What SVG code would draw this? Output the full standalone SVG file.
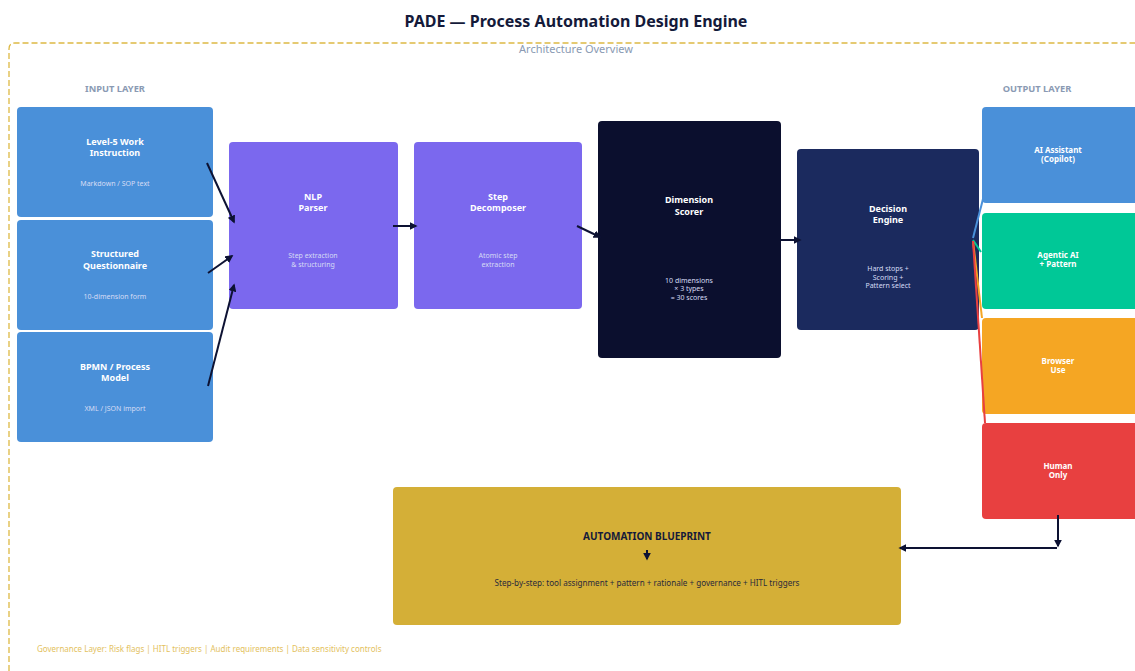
<svg xmlns="http://www.w3.org/2000/svg" width="1135" height="671" viewBox="0 0 1135 671">
  <style>
    text { font-family: "Noto Sans", "Open Sans", "DejaVu Sans", sans-serif; text-anchor: middle; }
    .title { font-size: 16px; font-weight: bold; fill: #141a3a; }
    .sub { font-size: 11px; fill: #8a9ab3; }
    .layer { font-size: 9.3px; font-weight: bold; fill: #8a9ab3; }
    .nt { font-size: 9px; font-weight: bold; fill: #ffffff; }
    .nt-s { font-size: 8px; font-weight: bold; fill: #ffffff; }
    .ns { font-size: 7px; fill: #d6dcf5; }
    .gov { font-size: 8px; fill: #e3c15e; text-anchor: start; }
    .flow { stroke: #0d1233; stroke-width: 2; fill: none; marker-end: url(#ah); }
    .out { stroke-width: 2; fill: none; }
  </style>
  <defs>
    <marker id="ah" viewBox="0 0 10 10" refX="8" refY="5" markerWidth="4" markerHeight="4" orient="auto">
      <path d="M0,0 L10,5 L0,10 z" fill="#0d1233"/>
    </marker>
  </defs>

  <rect width="1135" height="671" fill="#ffffff"/>

  <!-- heading -->
  <text class="title" x="576" y="27">PADE — Process Automation Design Engine</text>

  <!-- dashed frame of the architecture overview -->
  <path d="M9,671 V49 Q9,43 15,43 H1135" fill="none" stroke="#ddb944" stroke-width="1.3" stroke-dasharray="6,3"/>
  <text class="sub" x="576" y="53">Architecture Overview</text>
  <text class="layer" x="115" y="92">INPUT LAYER</text>
  <text class="layer" x="1037" y="92">OUTPUT LAYER</text>

  <!-- input layer -->
  <g id="in-work-instruction">
    <rect x="17" y="107" width="196" height="110" rx="4" fill="#4a90d9"/>
    <text class="nt" x="115" y="145">Level-5 Work</text>
    <text class="nt" x="115" y="156">Instruction</text>
    <text class="ns" x="115" y="186">Markdown / SOP text</text>
  </g>
  <g id="in-questionnaire">
    <rect x="17" y="220" width="196" height="110" rx="4" fill="#4a90d9"/>
    <text class="nt" x="115" y="257">Structured</text>
    <text class="nt" x="115" y="269">Questionnaire</text>
    <text class="ns" x="115" y="299">10-dimension form</text>
  </g>
  <g id="in-bpmn">
    <rect x="17" y="332" width="196" height="110" rx="4" fill="#4a90d9"/>
    <text class="nt" x="115" y="370">BPMN / Process</text>
    <text class="nt" x="115" y="381">Model</text>
    <text class="ns" x="115" y="411">XML / JSON import</text>
  </g>

  <!-- processing pipeline -->
  <g id="nlp-parser">
    <rect x="229" y="142" width="169" height="167" rx="4" fill="#7b68ee"/>
    <text class="nt" x="313" y="200">NLP</text>
    <text class="nt" x="313" y="211">Parser</text>
    <text class="ns" x="313" y="258">Step extraction</text>
    <text class="ns" x="313" y="267">&amp; structuring</text>
  </g>
  <g id="step-decomposer">
    <rect x="414" y="142" width="168" height="167" rx="4" fill="#7b68ee"/>
    <text class="nt" x="498" y="200">Step</text>
    <text class="nt" x="498" y="211">Decomposer</text>
    <text class="ns" x="498" y="258">Atomic step</text>
    <text class="ns" x="498" y="267">extraction</text>
  </g>
  <g id="dimension-scorer">
    <rect x="598" y="121" width="183" height="237" rx="4" fill="#0b0f2e"/>
    <text class="nt" x="689" y="203">Dimension</text>
    <text class="nt" x="689" y="215">Scorer</text>
    <text class="ns" x="689" y="283">10 dimensions</text>
    <text class="ns" x="689" y="291">× 3 types</text>
    <text class="ns" x="689" y="300">= 30 scores</text>
  </g>
  <g id="decision-engine">
    <rect x="797" y="149" width="182" height="181" rx="4" fill="#1b2a5e"/>
    <text class="nt" x="888" y="212">Decision</text>
    <text class="nt" x="888" y="223">Engine</text>
    <text class="ns" x="888" y="271">Hard stops +</text>
    <text class="ns" x="888" y="280">Scoring +</text>
    <text class="ns" x="888" y="288">Pattern select</text>
  </g>

  <!-- output layer -->
  <g id="out-assistant">
    <rect x="982" y="107" width="160" height="96" rx="4" fill="#4a90d9"/>
    <text class="nt-s" x="1058" y="153">AI Assistant</text>
    <text class="nt-s" x="1058" y="162">(Copilot)</text>
  </g>
  <g id="out-agentic">
    <rect x="982" y="213" width="160" height="96" rx="4" fill="#00c897"/>
    <text class="nt-s" x="1058" y="258">Agentic AI</text>
    <text class="nt-s" x="1058" y="267">+ Pattern</text>
  </g>
  <g id="out-browser">
    <rect x="982" y="318" width="160" height="96" rx="4" fill="#f5a623"/>
    <text class="nt-s" x="1058" y="364">Browser</text>
    <text class="nt-s" x="1058" y="373">Use</text>
  </g>
  <g id="out-human">
    <rect x="982" y="423" width="160" height="96" rx="4" fill="#e84040"/>
    <text class="nt-s" x="1058" y="469">Human</text>
    <text class="nt-s" x="1058" y="478">Only</text>
  </g>

  <!-- final artefact -->
  <g id="blueprint">
    <rect x="393" y="487" width="508" height="138" rx="4" fill="#d4af37"/>
    <text x="647" y="540" font-size="10" font-weight="bold" fill="#141a3a">AUTOMATION BLUEPRINT</text>
    <line x1="647" y1="550" x2="647" y2="559" class="flow"/>
    <text x="647" y="586" font-size="8.1" fill="#2a2a3a">Step-by-step: tool assignment + pattern + rationale + governance + HITL triggers</text>
  </g>

  <text class="gov" x="37" y="652">Governance Layer: Risk flags | HITL triggers | Audit requirements | Data sensitivity controls</text>

  <!-- connectors -->
  <g id="connectors">
    <line class="flow" x1="207" y1="163" x2="234" y2="222"/>
    <line class="flow" x1="208" y1="273" x2="232" y2="256"/>
    <line class="flow" x1="208" y1="386" x2="234" y2="285"/>
    <line class="flow" x1="393" y1="226" x2="416" y2="226"/>
    <line class="flow" x1="577" y1="226" x2="600" y2="237"/>
    <line class="flow" x1="781" y1="240" x2="800" y2="240"/>
    <line class="out" stroke="#4a90d9" x1="973" y1="238" x2="983" y2="199"/>
    <line class="out" stroke="#00c897" x1="973" y1="240" x2="981" y2="252"/>
    <line class="out" stroke="#f5a623" x1="973" y1="241" x2="982" y2="318"/>
    <line class="out" stroke="#e84040" x1="973" y1="241" x2="985" y2="423"/>
    <line class="flow" x1="1058" y1="515" x2="1058" y2="546"/>
    <line class="flow" x1="1057" y1="548" x2="900" y2="548"/>
  </g>
</svg>
